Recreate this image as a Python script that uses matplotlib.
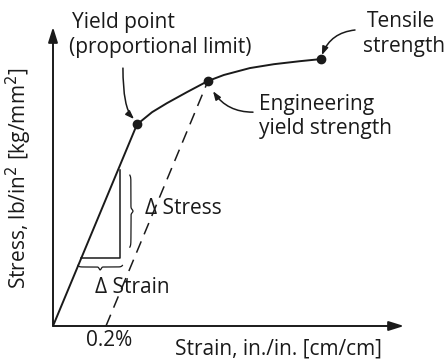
import numpy as np
import matplotlib.pyplot as plt

plt.rcParams['font.family'] = ['Open Sans', 'DejaVu Sans']

# strain in %, stress in relative units (schematic curve)
modulus = 212.0
offset = 0.2
elastic_strain = [0.0, 0.317]
elastic_stress = [0.0, 67.2]
plastic_strain = [0.317, 0.374, 0.430, 0.506, 0.585, 0.645, 0.743, 0.834, 0.932, 1.011]
plastic_stress = [67.2, 71.3, 74.3, 78.0, 81.7, 83.7, 86.0, 87.3, 88.3, 89.0]
yield_pt = (0.317, 67.2)
eng_yield_pt = (0.585, 81.7)
tensile_pt = (1.011, 89.0)
x_max, y_max = 1.325, 99.7

# slope triangle on the elastic line
tri_y = 22.7
tri_x_right = 0.253
tri_y_top = 52.0

fig = plt.figure(figsize=(4.48, 3.6), dpi=100)
ax = fig.add_axes([53 / 448, 34 / 360, 351 / 448, 299 / 360])
ax.set_xlim(0, x_max)
ax.set_ylim(0, y_max)
ax.set_axis_off()

lw = 1.4
ink = '#1a1a1a'
# axes with arrow heads
arrow = dict(arrowstyle='-|>,head_length=0.7,head_width=0.22', lw=lw, color=ink,
             mutation_scale=13, shrinkA=0, shrinkB=0)
ax.annotate('', xy=(x_max, 0), xytext=(0, 0), arrowprops=arrow, annotation_clip=False)
ax.annotate('', xy=(0, y_max), xytext=(0, 0), arrowprops=arrow, annotation_clip=False)

# stress-strain curve
ax.plot(elastic_strain, elastic_stress, color=ink, lw=lw, solid_capstyle='round')
ax.plot(plastic_strain, plastic_stress, color=ink, lw=lw, solid_joinstyle='round')
for pt in (yield_pt, eng_yield_pt, tensile_pt):
    ax.plot(*pt, 'o', color=ink, ms=6)

# 0.2% offset line
ax.plot([offset, eng_yield_pt[0]], [0, eng_yield_pt[1]], color=ink, lw=1.1,
        dashes=(8, 5))

# triangle for the modulus
x_left = tri_y / modulus
ax.plot([x_left, tri_x_right, tri_x_right], [tri_y, tri_y, tri_y_top], color=ink, lw=1.1)


def brace(x0, x1, y, depth, vertical=False):
    t = np.linspace(0, 1, 200)
    # curly brace profile
    s = np.where(t < 0.5, t, 1 - t)
    prof = depth * (0.35 * (1 - np.exp(-s * 40)) + 0.65 * np.exp(-((t - 0.5) / 0.03) ** 2))
    pos = x0 + (x1 - x0) * t
    if vertical:
        ax.plot(y + prof, pos, color=ink, lw=0.9)
    else:
        ax.plot(pos, y - prof, color=ink, lw=0.9)


brace(26.3, 50.3, 0.290, 0.012, vertical=True)
brace(0.094, 0.262, 20.2, 1.5)

fs = 15
ax.text(0.347, 39.3, '\u0394 Stress', fontsize=fs, va='center', color=ink)
ax.text(0.158, 12.7, '\u0394 Strain', fontsize=fs, va='center', color=ink)
ax.text(0.212, -4.7, '0.2%', fontsize=fs, va='center', ha='center', color=ink)
ax.text(0.46, -7.6, 'Strain, in./in. [cm/cm]', fontsize=fs, va='center', color=ink)
ax.text(-0.128, 49.3, 'Stress, lb/in$^2$ [kg/mm$^2$]', fontsize=fs, rotation=90,
        va='center', ha='center', color=ink)

ax.text(0.072, 101.3, 'Yield point', fontsize=fs, va='center', color=ink)
ax.text(0.060, 93.0, '(proportional limit)', fontsize=fs, va='center', color=ink)
ax.text(1.185, 101.7, 'Tensile', fontsize=fs, va='center', color=ink)
ax.text(1.170, 93.3, 'strength', fontsize=fs, va='center', color=ink)
ax.text(0.777, 74.0, 'Engineering', fontsize=fs, va='center', color=ink)
ax.text(0.777, 66.0, 'yield strength', fontsize=fs, va='center', color=ink)

# pointers to the marked points
head = dict(arrowstyle='-|>,head_length=0.5,head_width=0.18', lw=1.1, color=ink,
            shrinkA=0, shrinkB=0)
ax.annotate('', xy=(0.306, 69.0), xytext=(0.264, 86.0), annotation_clip=False,
            arrowprops=dict(head, connectionstyle='angle3,angleA=90,angleB=135'))
ax.annotate('', xy=(0.604, 78.3), xytext=(0.755, 71.3), annotation_clip=False,
            arrowprops=dict(head, connectionstyle='angle3,angleA=0,angleB=124'))
ax.annotate('', xy=(1.015, 90.3), xytext=(1.140, 98.7), annotation_clip=False,
            arrowprops=dict(head, connectionstyle='arc3,rad=0.3'))

fig.savefig('out.png', dpi=100, facecolor='white')
